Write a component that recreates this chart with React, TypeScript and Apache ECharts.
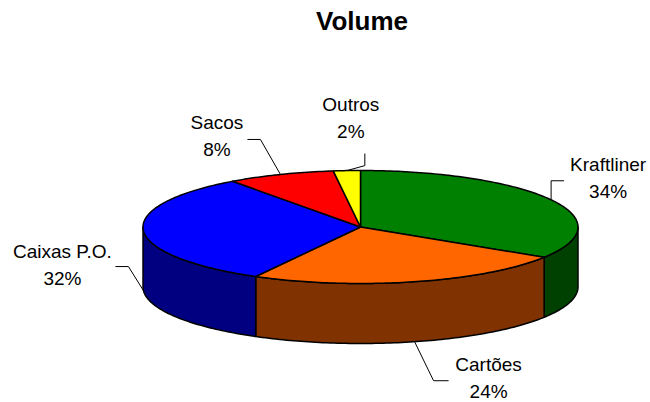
import React, { useEffect, useRef } from "react";
import * as echarts from "echarts";

const categories = ["Kraftliner", "Cartões", "Caixas P.O.", "Sacos", "Outros"];
const values = [34, 24, 32, 8, 2];
const topColors = ["#008000", "#FF6600", "#0000FF", "#FF0000", "#FFFF00"];
const sideColors = ["#004000", "#803300", "#000080", "#800000", "#808000"];
// leader elbow, leader end and label centre, relative to the leader start on the pie
const labelLayout = [
  { elbow: [0, -19], end: [13, -19], label: [57, -22] },
  { elbow: [19, 39], end: [34, 39], label: [74, 36.5] },
  { elbow: [-15, -24], end: [-28, -24], label: [-81, -26] },
  { elbow: [-20, -35], end: [-33, -35], label: [-63.5, -38] },
  { elbow: [18, -5], end: [18, -17], label: [4, -52.5] },
];

const CX = 360.5;
const CY = 227;
const RX = 217.5;
const RY = 56.5;
const DEPTH = 60;

function rim(deg: number, dy = 0): [number, number] {
  const r = (deg * Math.PI) / 180;
  return [CX + RX * Math.sin(r), CY - RY * Math.cos(r) + dy];
}

function arcPoints(a0: number, a1: number, dy = 0): [number, number][] {
  const pts: [number, number][] = [];
  const n = Math.max(2, Math.ceil(Math.abs(a1 - a0)));
  for (let i = 0; i <= n; i++) pts.push(rim(a0 + ((a1 - a0) * i) / n, dy));
  return pts;
}

export default function App() {
  const ref = useRef<HTMLDivElement>(null);
  useEffect(() => {
    if (!ref.current) return;
    const chart = echarts.init(ref.current, undefined, { renderer: "svg" });
    const total = values.reduce((a, b) => a + b, 0);
    const starts: number[] = [];
    let acc = 0;
    values.forEach((v) => {
      starts.push((acc / total) * 360);
      acc += v;
    });
    const font = "'Liberation Sans', Arial, sans-serif";
    chart.setOption({
      animation: false,
      backgroundColor: "#ffffff",
      title: {
        text: "Volume",
        left: 357,
        top: 3,
        textAlign: "center",
        textStyle: { fontSize: 26, fontWeight: "bold", fontFamily: font, color: "#000" },
      },
      series: [
        {
          type: "custom",
          coordinateSystem: "none",
          silent: true,
          data: values.map((v, i) => ({ name: categories[i], value: v })),
          renderItem: (params: any) => {
            const i = params.dataIndex;
            const a0 = starts[i];
            const a1 = a0 + (values[i] / total) * 360;
            const children: any[] = [];
            const stroke = { stroke: "#000", lineWidth: 1.5, lineJoin: "round" };
            // side wall (front half: 90..270 deg)
            const s = Math.max(a0, 90);
            const e = Math.min(a1, 270);
            if (e > s) {
              const pts = arcPoints(s, e).concat(arcPoints(e, s, DEPTH));
              children.push({
                type: "polygon",
                shape: { points: pts },
                style: { fill: sideColors[i], ...stroke },
              });
            }
            // top face
            const top = [[CX, CY] as [number, number]].concat(arcPoints(a0, a1));
            children.push({
              type: "polygon",
              shape: { points: top },
              style: { fill: topColors[i], ...stroke },
            });
            // label + leader
            const mid = (a0 + a1) / 2;
            const front = mid > 90 && mid < 270;
            const st = rim(mid, front ? DEPTH : 0);
            const L = labelLayout[i];
            children.push({
              type: "polyline",
              shape: {
                points: [
                  st,
                  [st[0] + L.elbow[0], st[1] + L.elbow[1]],
                  [st[0] + L.end[0], st[1] + L.end[1]],
                ],
              },
              style: { stroke: "#000", lineWidth: 1, fill: null },
            });
            children.push({
              type: "text",
              x: st[0] + L.label[0],
              y: st[1] + L.label[1],
              style: {
                text: categories[i] + "\n" + Math.round((values[i] / total) * 100) + "%",
                fontSize: 19,
                fontFamily: font,
                fill: "#000",
                align: "center",
                verticalAlign: "middle",
                lineHeight: 27,
              },
            });
            return { type: "group", children };
          },
        },
      ],
    });
    return () => chart.dispose();
  }, []);
  return (
    <div
      ref={ref}
      style={{ position: "fixed", left: 0, top: 0, width: 650, height: 402, background: "#fff" }}
    />
  );
}
